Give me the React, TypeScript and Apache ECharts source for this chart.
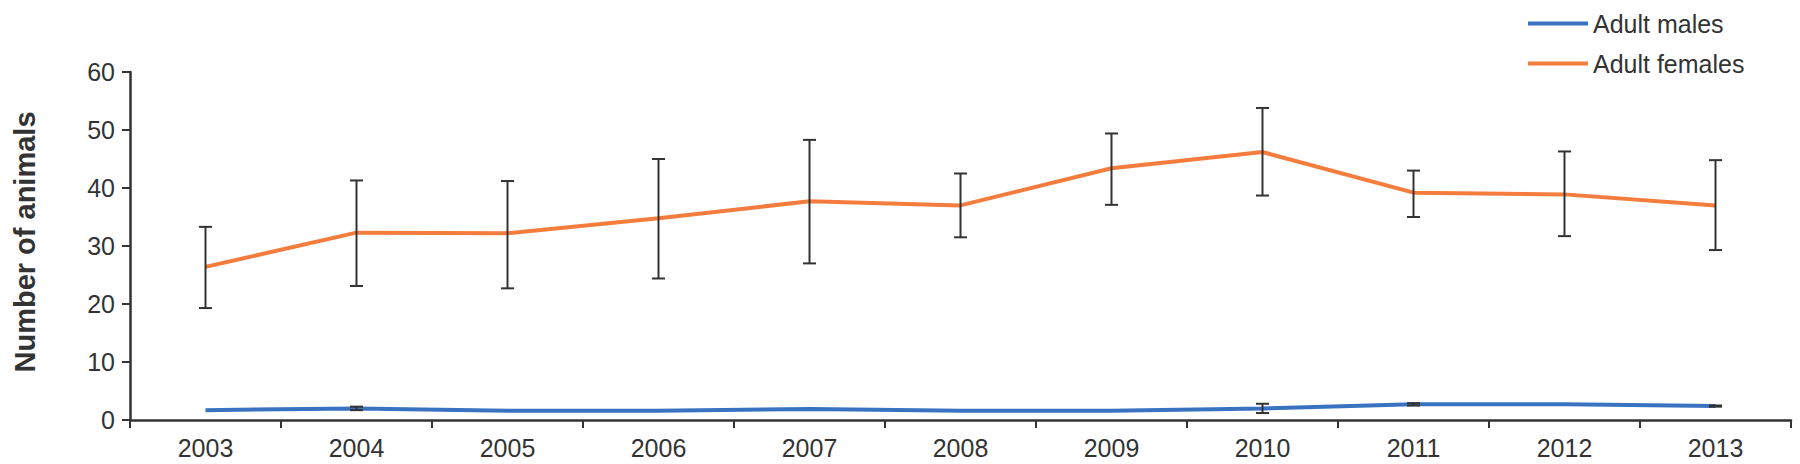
import React, { useEffect, useRef } from "react";
import * as echarts from "echarts";

const years = ["2003", "2004", "2005", "2006", "2007", "2008", "2009", "2010", "2011", "2012", "2013"];
const yTicks = [0, 10, 20, 30, 40, 50, 60];

const females = [26.4, 32.3, 32.2, 34.8, 37.7, 37.0, 43.4, 46.2, 39.2, 38.9, 37.0];
const femalesHigh = [33.3, 41.3, 41.2, 45.0, 48.3, 42.5, 49.4, 53.8, 43.0, 46.3, 44.8];
const femalesLow = [19.3, 23.1, 22.7, 24.4, 27.0, 31.5, 37.1, 38.7, 35.0, 31.7, 29.3];

const males = [1.7, 2.0, 1.6, 1.6, 1.9, 1.6, 1.6, 2.0, 2.7, 2.7, 2.4];
const malesHigh = [null, 2.3, null, null, null, null, null, 2.8, 2.9, null, 2.5];
const malesLow = [null, 1.7, null, null, null, null, null, 1.2, 2.5, null, 2.3];

const FONT = "Liberation Sans";
const TEXT = "#333333";

function errData(lo: (number | null)[], hi: (number | null)[]) {
  const out: number[][] = [];
  lo.forEach((l, i) => {
    const h = hi[i];
    if (l != null && h != null) out.push([i, l, h]);
  });
  return out;
}

function renderErr(params: any, api: any) {
  const x = api.value(0);
  const pLo = api.coord([x, api.value(1)]);
  const pHi = api.coord([x, api.value(2)]);
  const hw = 6.5;
  const style = { stroke: "#333333", lineWidth: 2 };
  return {
    type: "group",
    children: [
      { type: "line", shape: { x1: pHi[0], y1: pHi[1], x2: pLo[0], y2: pLo[1] }, style },
      { type: "line", shape: { x1: pHi[0] - hw, y1: pHi[1], x2: pHi[0] + hw, y2: pHi[1] }, style },
      { type: "line", shape: { x1: pLo[0] - hw, y1: pLo[1], x2: pLo[0] + hw, y2: pLo[1] }, style },
    ],
  };
}

export default function App() {
  const ref = useRef<HTMLDivElement>(null);
  useEffect(() => {
    if (!ref.current) return;
    const chart = echarts.init(ref.current, null, { renderer: "svg" });
    chart.setOption({
      animation: false,
      backgroundColor: "#ffffff",
      grid: { left: 130, right: 9, top: 72, bottom: 44, containLabel: false },
      legend: {
        orient: "vertical",
        left: 1523,
        top: 6,
        itemWidth: 60,
        itemHeight: 4,
        itemGap: 15,
        icon: "rect",
        data: ["Adult males", "Adult females"],
        textStyle: { fontFamily: FONT, fontSize: 25, color: TEXT },
      },
      graphic: [
        {
          type: "text",
          x: 25,
          y: 242,
          rotation: Math.PI / 2,
          style: {
            text: "Number of animals",
            fontFamily: FONT,
            fontWeight: "bold",
            fontSize: 29,
            fill: TEXT,
            align: "center",
            verticalAlign: "middle",
          },
        },
      ],
      xAxis: {
        type: "category",
        data: years,
        boundaryGap: true,
        axisLine: { lineStyle: { color: "#333333", width: 2.5 } },
        axisTick: { show: true, length: 8, lineStyle: { color: "#333333", width: 2 } },
        axisLabel: { fontFamily: FONT, fontSize: 25, color: TEXT, margin: 15 },
        splitLine: { show: false },
      },
      yAxis: {
        type: "value",
        min: yTicks[0],
        max: yTicks[yTicks.length - 1],
        interval: 10,
        axisLine: { show: true, lineStyle: { color: "#333333", width: 2.5 } },
        axisTick: { show: true, length: 8, lineStyle: { color: "#333333", width: 2 } },
        axisLabel: { fontFamily: FONT, fontSize: 25, color: TEXT, margin: 15 },
        splitLine: { show: false },
      },
      series: [
        {
          name: "Adult males",
          type: "line",
          data: males,
          symbol: "none",
          lineStyle: { color: "#3A72C2", width: 4 },
          itemStyle: { color: "#3A72C2" },
          z: 2,
        },
        {
          name: "Adult females",
          type: "line",
          data: females,
          symbol: "none",
          lineStyle: { color: "#F47D3E", width: 4 },
          itemStyle: { color: "#F47D3E" },
          z: 2,
        },
        {
          name: "females-err",
          type: "custom",
          data: errData(femalesLow, femalesHigh),
          encode: { x: 0, y: [1, 2] },
          renderItem: renderErr,
          z: 5,
        },
        {
          name: "males-err",
          type: "custom",
          data: errData(malesLow, malesHigh),
          encode: { x: 0, y: [1, 2] },
          renderItem: renderErr,
          z: 5,
        },
      ],
    });
    return () => chart.dispose();
  }, []);
  return (
    <div
      ref={ref}
      style={{ position: "fixed", left: 0, top: 0, width: 1800, height: 464, background: "#fff" }}
    />
  );
}
